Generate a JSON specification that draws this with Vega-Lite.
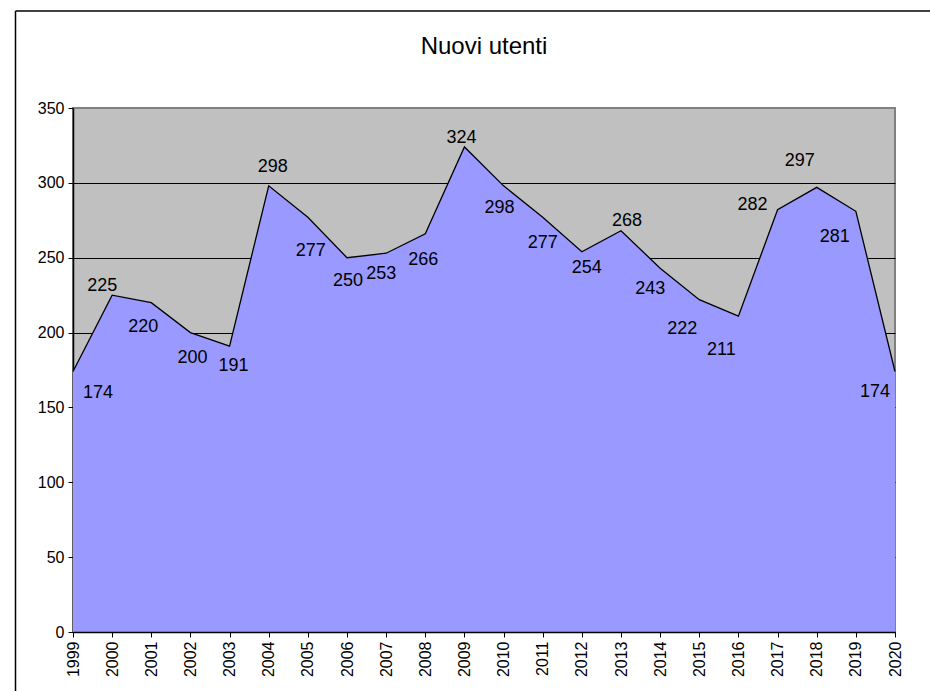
{
  "$schema": "https://vega.github.io/schema/vega-lite/v6.json",
  "autosize": {"type": "none"},
  "padding": {"left": 73, "top": 108, "right": 35, "bottom": 59},
  "width": 822,
  "height": 524,
  "background": "white",
  "title": {"text": "Nuovi utenti", "fontSize": 24, "fontWeight": "normal", "font": "Liberation Sans", "color": "black", "frame": "group", "anchor": "middle", "baseline": "alphabetic", "offset": -67},
  "data": {
    "values": [
      {"year": 1999, "users": 174}, {"year": 2000, "users": 225}, {"year": 2001, "users": 220},
      {"year": 2002, "users": 200}, {"year": 2003, "users": 191}, {"year": 2004, "users": 298},
      {"year": 2005, "users": 277}, {"year": 2006, "users": 250}, {"year": 2007, "users": 253},
      {"year": 2008, "users": 266}, {"year": 2009, "users": 324}, {"year": 2010, "users": 298},
      {"year": 2011, "users": 277}, {"year": 2012, "users": 254}, {"year": 2013, "users": 268},
      {"year": 2014, "users": 243}, {"year": 2015, "users": 222}, {"year": 2016, "users": 211},
      {"year": 2017, "users": 282}, {"year": 2018, "users": 297}, {"year": 2019, "users": 281},
      {"year": 2020, "users": 174}
    ]
  },
  "layer": [
    {
      "encoding": {
        "x": {"field": "year", "type": "quantitative", "scale": {"domain": [1999, 2020], "nice": false, "zero": false},
          "axis": {"values": [1999,2000,2001,2002,2003,2004,2005,2006,2007,2008,2009,2010,2011,2012,2013,2014,2015,2016,2017,2018,2019,2020],
            "format": "d", "labelAngle": 270, "title": null, "grid": false, "orient": "bottom",
            "labelFontSize": 16, "labelColor": "black", "labelPadding": 4, "labelFlush": false, "labelOverlap": false,
            "tickSize": 5, "tickColor": "black", "domainColor": "black", "domainWidth": 1.5, "zindex": 1}},
        "y": {"field": "users", "type": "quantitative", "scale": {"domain": [0, 350], "nice": false},
          "axis": {"values": [0,50,100,150,200,250,300,350], "title": null, "orient": "left",
            "labelFontSize": 16, "labelColor": "black", "labelPadding": 4, "tickSize": 5, "tickColor": "black",
            "domainColor": "black", "domainWidth": 1.5, "grid": true, "gridColor": "black", "gridWidth": 1,
            "gridOpacity": {"condition": {"test": "datum.value >= 350", "value": 0}, "value": 1}}}
      },
      "layer": [
        {"mark": {"type": "area", "color": "#9999FF", "opacity": 1}},
        {"mark": {"type": "line", "color": "black", "strokeWidth": 1.3}},
        {"transform": [{"filter": "datum.year == 1999"}], "mark": {"type": "text", "fontSize": 18, "baseline": "middle", "dx": 25, "dy": 22}, "encoding": {"text": {"field": "users"}}},
        {"transform": [{"filter": "datum.year == 2000"}], "mark": {"type": "text", "fontSize": 18, "baseline": "middle", "dx": -10, "dy": -9.5}, "encoding": {"text": {"field": "users"}}},
        {"transform": [{"filter": "datum.year == 2001"}], "mark": {"type": "text", "fontSize": 18, "baseline": "middle", "dx": -8, "dy": 24}, "encoding": {"text": {"field": "users"}}},
        {"transform": [{"filter": "datum.year == 2002"}], "mark": {"type": "text", "fontSize": 18, "baseline": "middle", "dx": 2, "dy": 25}, "encoding": {"text": {"field": "users"}}},
        {"transform": [{"filter": "datum.year == 2003"}], "mark": {"type": "text", "fontSize": 18, "baseline": "middle", "dx": 4, "dy": 19.5}, "encoding": {"text": {"field": "users"}}},
        {"transform": [{"filter": "datum.year == 2004"}], "mark": {"type": "text", "fontSize": 18, "baseline": "middle", "dx": 4, "dy": -19}, "encoding": {"text": {"field": "users"}}},
        {"transform": [{"filter": "datum.year == 2005"}], "mark": {"type": "text", "fontSize": 18, "baseline": "middle", "dx": 3, "dy": 33.5}, "encoding": {"text": {"field": "users"}}},
        {"transform": [{"filter": "datum.year == 2006"}], "mark": {"type": "text", "fontSize": 18, "baseline": "middle", "dx": 1, "dy": 23}, "encoding": {"text": {"field": "users"}}},
        {"transform": [{"filter": "datum.year == 2007"}], "mark": {"type": "text", "fontSize": 18, "baseline": "middle", "dx": -5, "dy": 21}, "encoding": {"text": {"field": "users"}}},
        {"transform": [{"filter": "datum.year == 2008"}], "mark": {"type": "text", "fontSize": 18, "baseline": "middle", "dx": -2, "dy": 26}, "encoding": {"text": {"field": "users"}}},
        {"transform": [{"filter": "datum.year == 2009"}], "mark": {"type": "text", "fontSize": 18, "baseline": "middle", "dx": -3, "dy": -9}, "encoding": {"text": {"field": "users"}}},
        {"transform": [{"filter": "datum.year == 2010"}], "mark": {"type": "text", "fontSize": 18, "baseline": "middle", "dx": -4, "dy": 22}, "encoding": {"text": {"field": "users"}}},
        {"transform": [{"filter": "datum.year == 2011"}], "mark": {"type": "text", "fontSize": 18, "baseline": "middle", "dx": 0, "dy": 26}, "encoding": {"text": {"field": "users"}}},
        {"transform": [{"filter": "datum.year == 2012"}], "mark": {"type": "text", "fontSize": 18, "baseline": "middle", "dx": 5, "dy": 16}, "encoding": {"text": {"field": "users"}}},
        {"transform": [{"filter": "datum.year == 2013"}], "mark": {"type": "text", "fontSize": 18, "baseline": "middle", "dx": 6, "dy": -10}, "encoding": {"text": {"field": "users"}}},
        {"transform": [{"filter": "datum.year == 2014"}], "mark": {"type": "text", "fontSize": 18, "baseline": "middle", "dx": -10, "dy": 21}, "encoding": {"text": {"field": "users"}}},
        {"transform": [{"filter": "datum.year == 2015"}], "mark": {"type": "text", "fontSize": 18, "baseline": "middle", "dx": -17, "dy": 29}, "encoding": {"text": {"field": "users"}}},
        {"transform": [{"filter": "datum.year == 2016"}], "mark": {"type": "text", "fontSize": 18, "baseline": "middle", "dx": -17, "dy": 34}, "encoding": {"text": {"field": "users"}}},
        {"transform": [{"filter": "datum.year == 2017"}], "mark": {"type": "text", "fontSize": 18, "baseline": "middle", "dx": -25, "dy": -5}, "encoding": {"text": {"field": "users"}}},
        {"transform": [{"filter": "datum.year == 2018"}], "mark": {"type": "text", "fontSize": 18, "baseline": "middle", "dx": -17, "dy": -26}, "encoding": {"text": {"field": "users"}}},
        {"transform": [{"filter": "datum.year == 2019"}], "mark": {"type": "text", "fontSize": 18, "baseline": "middle", "dx": -21, "dy": 26}, "encoding": {"text": {"field": "users"}}},
        {"transform": [{"filter": "datum.year == 2020"}], "mark": {"type": "text", "fontSize": 18, "baseline": "middle", "dx": -20, "dy": 21}, "encoding": {"text": {"field": "users"}}}
      ]
    },
    {
      "data": {"values": [{}]},
      "mark": {"type": "point", "opacity": 0},
      "encoding": {
        "x": {"datum": 0, "type": "quantitative", "scale": {"domain": [0, 1], "range": [-58, 1000]},
          "axis": {"orient": "top", "offset": 97.5, "labels": false, "ticks": false, "grid": false, "title": null, "domain": true, "domainColor": "black", "domainWidth": 1.5}},
        "y": {"datum": 0, "type": "quantitative", "scale": {"domain": [0, 1], "range": [700, -97.5]},
          "axis": {"orient": "left", "offset": 58, "labels": false, "ticks": false, "grid": false, "title": null, "domain": true, "domainColor": "black", "domainWidth": 1.5}}
      }
    }
  ],
  "resolve": {"scale": {"x": "independent", "y": "independent"}, "axis": {"x": "independent", "y": "independent"}},
  "config": {
    "font": "Liberation Sans",
    "view": {"fill": "#C0C0C0", "stroke": "#808080", "strokeWidth": 2},
    "text": {"color": "black", "font": "Liberation Sans"},
    "axis": {"labelFont": "Liberation Sans"}
  }
}
